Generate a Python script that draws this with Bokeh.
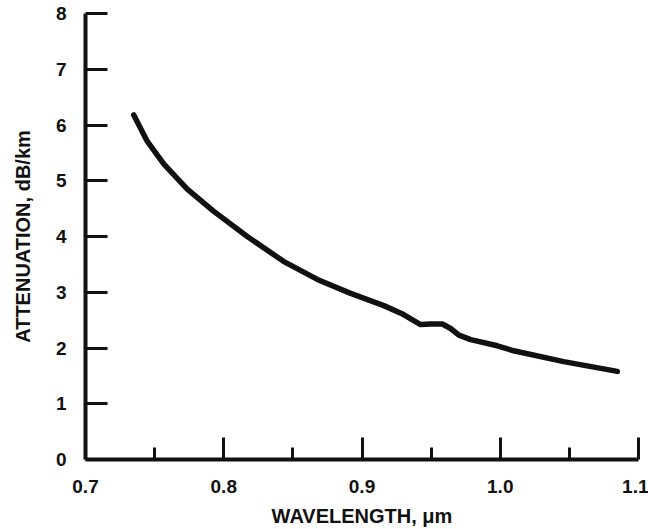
from bokeh.plotting import figure
from bokeh.models import FixedTicker, ColumnDataSource
from bokeh.embed import file_html
from bokeh.resources import INLINE

# Data
wavelength_um = [0.7349, 0.7446, 0.7567, 0.7736, 0.7928, 0.8170, 0.8435, 0.8677,
                 0.8918, 0.9158, 0.9301, 0.9424, 0.9496, 0.9581, 0.9641, 0.9701,
                 0.9786, 0.9979, 1.0097, 1.0459, 1.0847]
attenuation_db_km = [6.18, 5.71, 5.30, 4.85, 4.45, 4.00, 3.55, 3.23,
                     2.98, 2.76, 2.60, 2.42, 2.43, 2.43, 2.35, 2.23,
                     2.15, 2.04, 1.95, 1.755, 1.58]

x_ticks = [0.7, 0.8, 0.9, 1.0, 1.1]
x_tick_labels = ["0.7", "0.8", "0.9", "1.0", "1.1"]
x_minor_ticks = [0.75, 0.85, 0.95, 1.05]
y_ticks = [0, 1, 2, 3, 4, 5, 6, 7, 8]

FONT = "Liberation Sans"
INK = "#111111"

p = figure(width=648, height=529, x_range=(0.7, 1.1), y_range=(0, 8),
           output_backend="svg", toolbar_location=None,
           min_border_left=85, min_border_right=10, min_border_top=13,
           min_border_bottom=68)
p.background_fill_color = "white"
p.border_fill_color = "white"
p.outline_line_color = None
p.xgrid.visible = False
p.ygrid.visible = False

src = ColumnDataSource(dict(x=wavelength_um, y=attenuation_db_km))
p.line("x", "y", source=src, line_width=5.5, line_color=INK, line_cap="round",
       line_join="round")

xa = p.xaxis[0]
xa.ticker = FixedTicker(ticks=x_ticks, minor_ticks=x_minor_ticks)
xa.major_label_overrides = {t: s for t, s in zip(x_ticks, x_tick_labels)}
xa.axis_line_width = 4
xa.axis_line_color = INK
xa.major_tick_in = 22
xa.major_tick_out = 0
xa.minor_tick_in = 12
xa.minor_tick_out = 0
xa.major_tick_line_width = 3
xa.minor_tick_line_width = 3
xa.major_tick_line_color = INK
xa.minor_tick_line_color = INK
xa.major_label_standoff = 20
xa.major_label_text_font = FONT
xa.major_label_text_font_style = "bold"
xa.major_label_text_font_size = "19px"
xa.major_label_text_color = INK
xa.axis_label = "WAVELENGTH, μm"
xa.axis_label_text_font = FONT
xa.axis_label_text_font_style = "bold"
xa.axis_label_text_font_size = "20px"
xa.axis_label_text_color = INK
xa.axis_label_standoff = 9

ya = p.yaxis[0]
ya.ticker = FixedTicker(ticks=y_ticks)
ya.axis_line_width = 4
ya.axis_line_color = INK
ya.major_tick_in = 22
ya.major_tick_out = 0
ya.minor_tick_in = 0
ya.minor_tick_out = 0
ya.major_tick_line_width = 3
ya.major_tick_line_color = INK
ya.major_label_standoff = 19
ya.major_label_text_font = FONT
ya.major_label_text_font_style = "bold"
ya.major_label_text_font_size = "19px"
ya.major_label_text_color = INK
ya.axis_label = "ATTENUATION, dB/km"
ya.axis_label_text_font = FONT
ya.axis_label_text_font_style = "bold"
ya.axis_label_text_font_size = "20px"
ya.axis_label_text_color = INK
ya.axis_label_standoff = 19

open("out.html", "w").write(file_html(p, INLINE))
